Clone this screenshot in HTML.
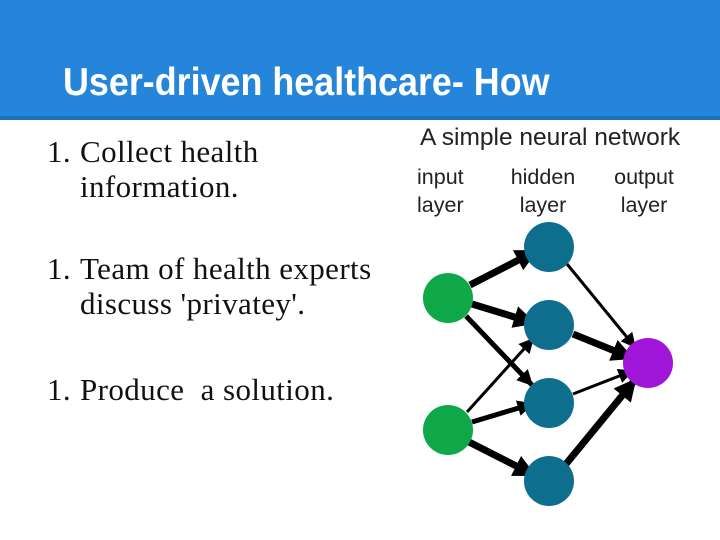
<!DOCTYPE html>
<html><head><style>
body{margin:0;width:720px;height:540px;background:#fff;overflow:hidden;position:relative;font-family:"Liberation Sans",sans-serif}
.hdr{position:absolute;left:0;top:0;width:720px;height:116px;background:#2585db;border-bottom:4px solid #1d6fb8}
.hdr h1{position:absolute;left:63px;top:61px;margin:0;font-size:39px;font-weight:bold;color:#fff;transform:scaleX(0.92);transform-origin:0 0;white-space:nowrap}
.t{position:absolute;font-family:"Liberation Serif",serif;font-size:31px;color:#111;line-height:35px;letter-spacing:0.4px;white-space:nowrap}
</style></head><body>
<div class="hdr"><h1>User-driven healthcare- How</h1></div>
<div class="t" style="left:47px;top:134px">1.</div>
<div class="t" style="left:80px;top:134px">Collect health<br>information.</div>
<div class="t" style="left:47px;top:251px">1.</div>
<div class="t" style="left:80px;top:251px">Team of health experts<br>discuss 'privatey'.</div>
<div class="t" style="left:47px;top:372px">1.</div>
<div class="t" style="left:80px;top:372px">Produce&nbsp; a solution.</div>
<svg width="720" height="540" style="position:absolute;left:0;top:0">
<defs><marker id="a" viewBox="0 0 10 10" refX="9" refY="5" markerWidth="5" markerHeight="5" orient="auto" markerUnits="strokeWidth"><path d="M0,0L10,5L0,10z" fill="#000"/></marker>
<marker id="b" viewBox="0 0 10 10" refX="9" refY="5" markerWidth="3.2" markerHeight="3.2" orient="auto" markerUnits="strokeWidth"><path d="M0,0L10,5L0,10z" fill="#000"/></marker></defs>
<g font-family="Liberation Sans,sans-serif" fill="#222">
<text x="420" y="145" font-size="24.5">A simple neural network</text>
<text x="417" y="184" font-size="21.5">input</text><text x="417" y="212" font-size="21.5">layer</text>
<text x="543" y="184" font-size="21.5" text-anchor="middle">hidden</text><text x="543" y="212" font-size="21.5" text-anchor="middle">layer</text>
<text x="644" y="184" font-size="21.5" text-anchor="middle">output</text><text x="644" y="212" font-size="21.5" text-anchor="middle">layer</text>
</g>
<g stroke="#000" fill="none">
<line x1="470" y1="285" x2="536" y2="251" stroke-width="7" marker-end="url(#b)"/>
<line x1="472" y1="304" x2="534" y2="323" stroke-width="7" marker-end="url(#b)"/>
<line x1="466" y1="316" x2="532" y2="385" stroke-width="5" marker-end="url(#b)"/>
<line x1="467" y1="412" x2="533" y2="339" stroke-width="3" marker-end="url(#a)"/>
<line x1="472" y1="422" x2="532" y2="404" stroke-width="5" marker-end="url(#b)"/>
<line x1="469" y1="442" x2="534" y2="475" stroke-width="7" marker-end="url(#b)"/>
<line x1="567" y1="264" x2="635" y2="347" stroke-width="3" marker-end="url(#a)"/>
<line x1="573" y1="334" x2="632" y2="358" stroke-width="7" marker-end="url(#b)"/>
<line x1="573" y1="394" x2="632" y2="371" stroke-width="3" marker-end="url(#a)"/>
<line x1="566" y1="464" x2="635" y2="380" stroke-width="7" marker-end="url(#b)"/>
</g>
<circle cx="448" cy="298" r="25" fill="#0fa848"/>
<circle cx="448" cy="430" r="25" fill="#0fa848"/>
<circle cx="549" cy="247" r="25" fill="#0e6e8e"/>
<circle cx="549" cy="325" r="25" fill="#0e6e8e"/>
<circle cx="549" cy="403" r="25" fill="#0e6e8e"/>
<circle cx="549" cy="481" r="25" fill="#0e6e8e"/>
<circle cx="648" cy="363" r="25" fill="#a016d8"/>
</svg>
</body></html>
